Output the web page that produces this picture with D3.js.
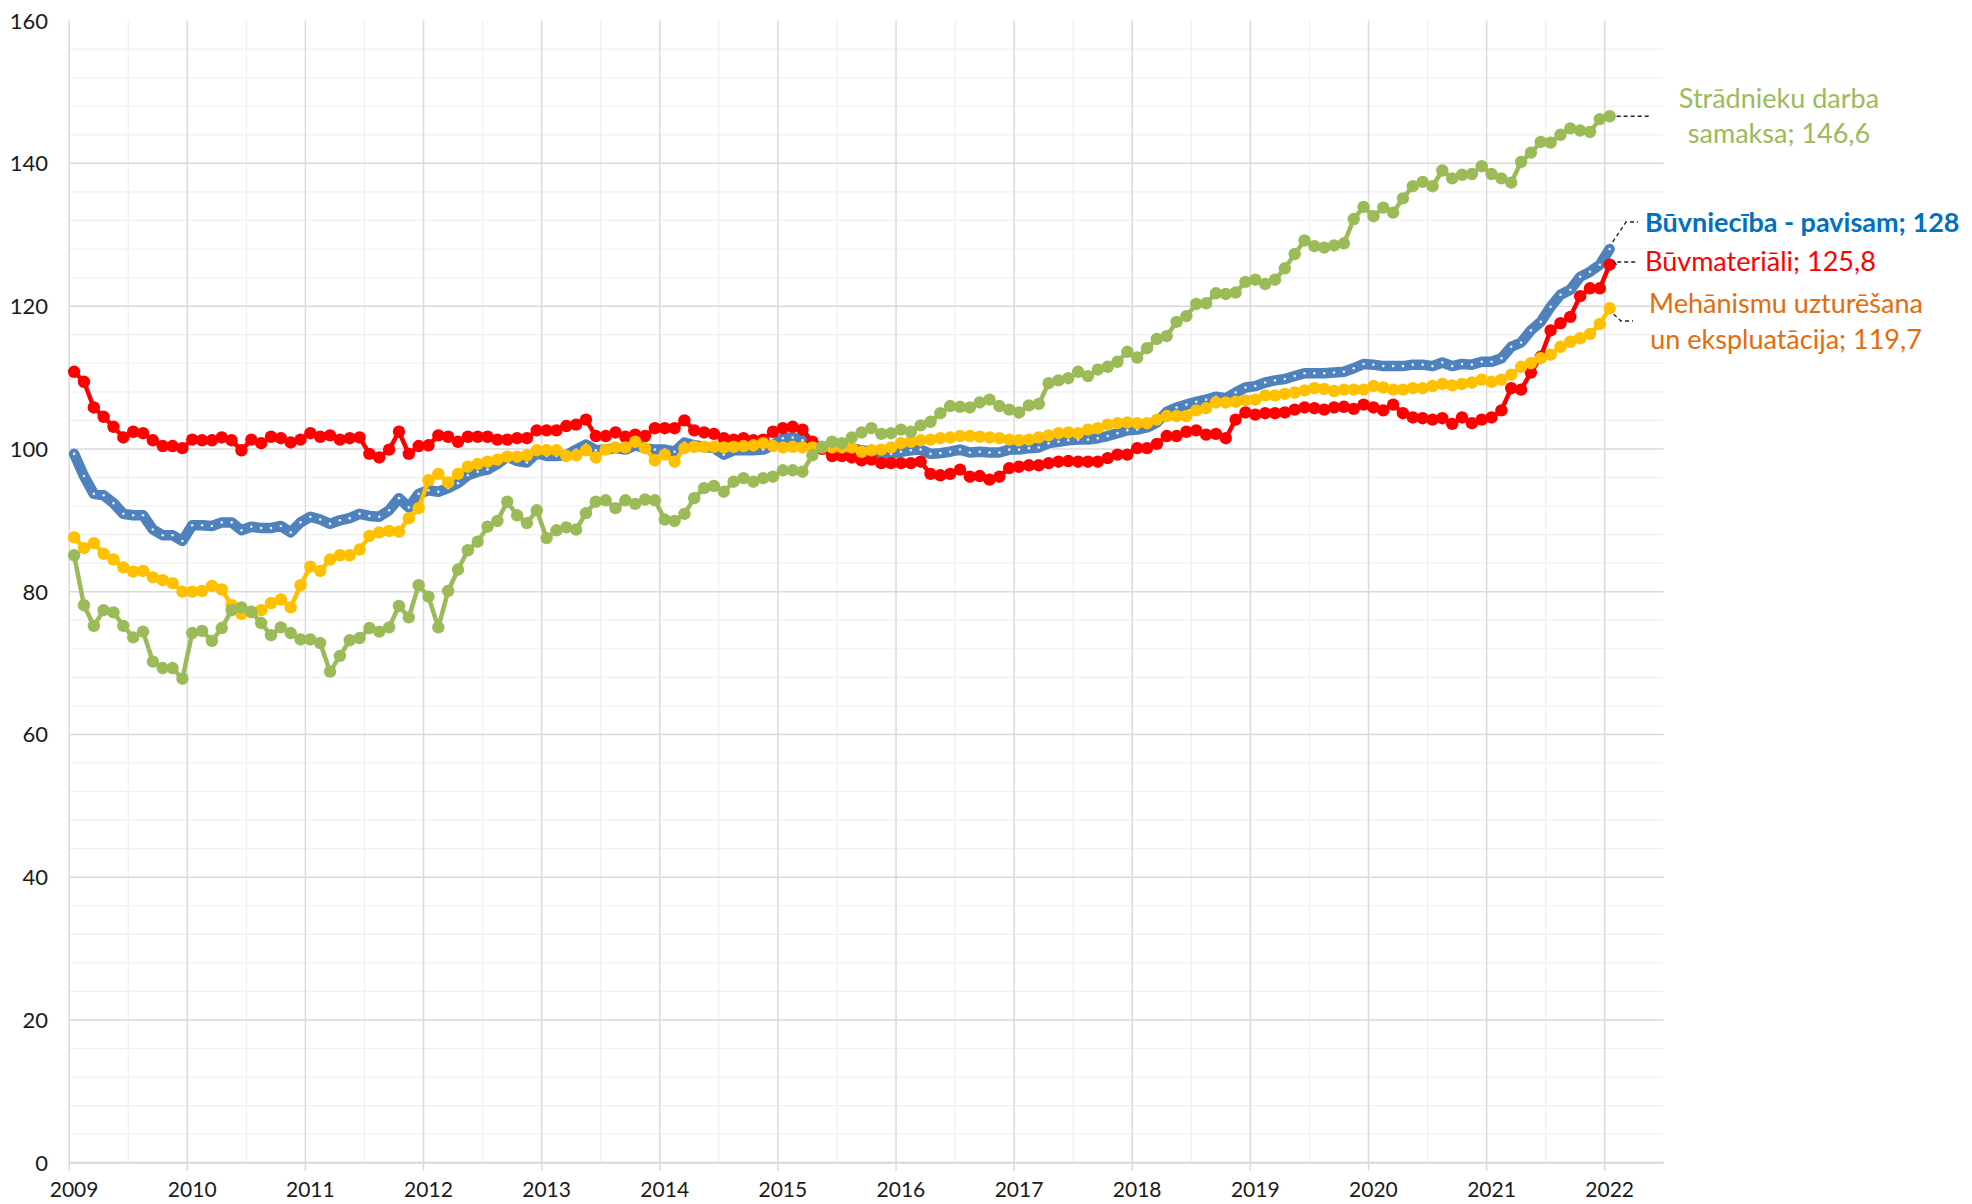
<!DOCTYPE html>
<html>
<head>
<meta charset="utf-8">
<script src="https://cdn.jsdelivr.net/npm/d3@7"></script>
<style>
  body { margin: 0; background: #fff; }
  svg { display: block; font-family: Lato, "Open Sans", sans-serif; }
</style>
</head>
<body>
<div id="chart"></div>
<script>
// monthly indices, 2015 = 100, from Jan 2009 to Jan 2022 (one row per year)
const START_YEAR = 2009;
const YEAR_LABELS = [2009, 2010, 2011, 2012, 2013, 2014, 2015, 2016, 2017, 2018, 2019, 2020, 2021, 2022];
const Y_TICKS = [0, 20, 40, 60, 80, 100, 120, 140, 160];

const buvniecibaPavisam = [
  99.3, 96.2, 93.7, 93.5, 92.4, 90.9, 90.7, 90.7, 88.7, 87.9, 87.9, 87.1,
  89.3, 89.3, 89.2, 89.7, 89.7, 88.6, 89.1, 88.9, 88.9, 89.2, 88.3, 89.7,
  90.5, 90.1, 89.5, 90.0, 90.3, 90.9, 90.6, 90.5, 91.4, 93.1, 91.8, 93.7,
  94.2, 94.0, 94.5, 95.2, 96.3, 96.8, 97.1, 97.9, 98.9, 98.3, 98.1, 99.4,
  99.0, 99.0, 99.1, 99.9, 100.6, 99.8, 99.9, 100.1, 99.9, 100.5, 100.1, 99.9,
  99.9, 99.6, 100.9, 100.5, 100.3, 100.1, 99.2, 99.8, 99.8, 99.8, 99.9, 100.5,
  101.5, 101.6, 101.2, 100.5, 100.3, 100.3, 100.2, 100.1, 99.8, 99.6, 99.3, 99.3,
  99.6, 99.8, 99.9, 99.3, 99.4, 99.6, 99.9, 99.5, 99.6, 99.5, 99.5, 99.9,
  99.9, 100.1, 100.2, 100.8, 101.0, 101.2, 101.3, 101.3, 101.5, 101.8, 102.2, 102.6,
  102.7, 103.0, 103.7, 105.2, 105.8, 106.2, 106.6, 106.9, 107.3, 107.1, 107.9, 108.6,
  108.8, 109.3, 109.6, 109.8, 110.2, 110.6, 110.6, 110.6, 110.7, 110.8, 111.3, 111.9,
  111.8, 111.6, 111.6, 111.6, 111.8, 111.8, 111.6, 112.1, 111.6, 111.9, 111.8, 112.2,
  112.2, 112.7, 114.3, 114.9, 116.6, 117.8, 119.9, 121.6, 122.3, 124.1, 124.8, 125.8,
  128.0
];

const buvmateriali = [
  110.8, 109.4, 105.8, 104.5, 103.1, 101.6, 102.4, 102.2, 101.2, 100.4, 100.4, 100.1,
  101.3, 101.2, 101.2, 101.6, 101.2, 99.8, 101.3, 100.8, 101.7, 101.5, 100.9, 101.3,
  102.2, 101.7, 101.9, 101.3, 101.5, 101.6, 99.3, 98.8, 99.9, 102.4, 99.3, 100.4,
  100.5, 101.9, 101.7, 101.0, 101.7, 101.7, 101.7, 101.3, 101.3, 101.5, 101.5, 102.6,
  102.6, 102.6, 103.2, 103.4, 104.1, 101.8, 101.8, 102.3, 101.7, 102.0, 101.8, 102.9,
  102.9, 102.9, 104.0, 102.6, 102.3, 102.1, 101.5, 101.3, 101.5, 101.2, 101.3, 102.4,
  102.9, 103.1, 102.7, 101.0, 100.0, 99.0, 99.0, 98.8, 98.4, 98.5, 98.0, 98.0,
  98.0, 98.0, 98.2, 96.5, 96.3, 96.5, 97.1, 96.1, 96.2, 95.7, 96.1, 97.3,
  97.5, 97.7, 97.7, 98.0, 98.2, 98.3, 98.2, 98.2, 98.2, 98.7, 99.2, 99.2,
  100.1, 100.1, 100.7, 101.8, 101.8, 102.4, 102.6, 102.0, 102.1, 101.5, 104.1, 105.1,
  104.8, 105.0, 105.0, 105.1, 105.5, 105.8, 105.7, 105.5, 105.8, 105.9, 105.6, 106.2,
  105.8, 105.4, 106.2, 105.0, 104.4, 104.3, 104.1, 104.3, 103.5, 104.4, 103.6, 104.1,
  104.4, 105.4, 108.5, 108.3, 110.7, 112.9, 116.6, 117.6, 118.5, 121.4, 122.5, 122.5,
  125.8
];

const mehanismi = [
  87.6, 86.1, 86.8, 85.3, 84.5, 83.4, 82.8, 82.9, 82.0, 81.6, 81.2, 80.0,
  80.0, 80.1, 80.8, 80.3, 78.1, 76.9, 77.1, 77.4, 78.4, 78.9, 77.8, 80.9,
  83.5, 82.9, 84.5, 85.1, 85.1, 85.9, 87.8, 88.3, 88.5, 88.4, 90.3, 91.7,
  95.6, 96.5, 95.3, 96.5, 97.5, 97.9, 98.2, 98.5, 98.9, 98.9, 99.1, 99.8,
  99.8, 99.8, 99.0, 99.1, 99.8, 98.8, 99.9, 100.2, 100.2, 101.0, 100.1, 98.4,
  99.2, 98.2, 100.1, 100.3, 100.3, 100.3, 100.2, 100.3, 100.4, 100.5, 100.8, 100.4,
  100.2, 100.3, 100.2, 100.2, 100.2, 100.2, 100.2, 100.2, 99.6, 99.8, 99.9, 100.2,
  100.8, 101.0, 101.2, 101.3, 101.5, 101.6, 101.8, 101.8, 101.7, 101.6, 101.5, 101.3,
  101.2, 101.3, 101.6, 101.9, 102.2, 102.3, 102.2, 102.7, 102.9, 103.4, 103.6, 103.7,
  103.6, 103.6, 104.1, 104.6, 104.6, 104.6, 105.4, 105.7, 106.5, 106.5, 106.6, 106.8,
  106.9, 107.5, 107.5, 107.7, 107.9, 108.2, 108.5, 108.4, 108.1, 108.3, 108.3, 108.3,
  108.8, 108.6, 108.3, 108.3, 108.5, 108.5, 108.8, 109.1, 108.9, 109.1, 109.3, 109.7,
  109.4, 109.7, 110.4, 111.5, 112.0, 112.7, 113.2, 114.3, 115.0, 115.5, 116.1, 117.5,
  119.7
];

const stradniekuAlga = [
  85.1, 78.1, 75.2, 77.4, 77.1, 75.2, 73.6, 74.4, 70.2, 69.3, 69.3, 67.8,
  74.2, 74.5, 73.1, 74.9, 77.4, 77.8, 77.2, 75.6, 73.9, 75.0, 74.2, 73.3,
  73.3, 72.8, 68.8, 71.0, 73.2, 73.5, 74.9, 74.4, 75.0, 78.0, 76.4, 80.9,
  79.3, 75.0, 80.1, 83.1, 85.8, 87.0, 89.1, 89.9, 92.6, 90.7, 89.6, 91.4,
  87.5, 88.6, 89.0, 88.7, 91.0, 92.6, 92.8, 91.7, 92.8, 92.3, 92.9, 92.8,
  90.1, 89.9, 90.9, 93.1, 94.5, 94.8, 94.0, 95.4, 95.9, 95.4, 95.9, 96.1,
  97.0, 97.0, 96.8, 99.1, 100.3, 101.0, 100.8, 101.6, 102.3, 102.9, 102.1, 102.2,
  102.7, 102.4, 103.3, 103.8, 105.0, 106.0, 105.9, 105.8, 106.5, 106.9, 106.0, 105.5,
  105.1, 106.1, 106.3, 109.2, 109.6, 109.9, 110.8, 110.2, 111.1, 111.5, 112.2, 113.6,
  112.8, 114.1, 115.4, 115.8, 117.8, 118.6, 120.3, 120.4, 121.8, 121.7, 121.9, 123.4,
  123.7, 123.1, 123.7, 125.3, 127.3, 129.2, 128.4, 128.2, 128.5, 128.8, 132.2, 133.9,
  132.6, 133.8, 133.1, 135.1, 136.8, 137.4, 136.8, 139.0, 137.9, 138.4, 138.5, 139.6,
  138.5, 137.9, 137.3, 140.2, 141.5, 143.0, 142.9, 144.0, 144.9, 144.6, 144.4, 146.2,
  146.6
];

var width = 1972,
    height = 1204;

const svg = d3.select("#chart").append("svg")
  .attr("width", width)
  .attr("height", height);

// month slots: Jan 2009 .. Jun 2022, points sit in the middle of a slot
const x = d3.scaleLinear().domain([0, 162]).range([69.2, 1663.8]);
const y = d3.scaleLinear().domain([0, 160]).range([1162.7, 20.6]);
const xm = i => x(i + 0.5);

// gridlines
const grid = svg.append("g");
grid.selectAll("line.hminor")
  .data(d3.range(4, 160, 4).filter(v => v % 20 !== 0))
  .join("line")
  .attr("x1", x(0)).attr("x2", x(162))
  .attr("y1", d => y(d)).attr("y2", d => y(d))
  .attr("stroke", "#f0f0f0").attr("stroke-width", 1.2);
grid.selectAll("line.vminor")
  .data(d3.range(6, 162, 12))
  .join("line")
  .attr("x1", d => x(d)).attr("x2", d => x(d))
  .attr("y1", y(160)).attr("y2", y(0))
  .attr("stroke", "#efefef").attr("stroke-width", 1.2);
grid.selectAll("line.hmajor")
  .data(Y_TICKS.filter(v => v < 160))
  .join("line")
  .attr("x1", x(0)).attr("x2", x(162))
  .attr("y1", d => y(d)).attr("y2", d => y(d))
  .attr("stroke", d => d === 0 ? "#d6d6d6" : "#dadada")
  .attr("stroke-width", d => d === 0 ? 2 : 1.5);
grid.selectAll("line.vmajor")
  .data(YEAR_LABELS)
  .join("line")
  .attr("x1", d => x((d - START_YEAR) * 12)).attr("x2", d => x((d - START_YEAR) * 12))
  .attr("y1", y(160)).attr("y2", y(0) + 8)
  .attr("stroke", "#dadada").attr("stroke-width", 1.5);

// axis labels
svg.append("g").selectAll("text")
  .data(Y_TICKS)
  .join("text")
  .attr("x", 48)
  .attr("y", d => y(d))
  .attr("dy", "0.36em")
  .attr("text-anchor", "end")
  .attr("font-size", 22)
  .attr("fill", "#1a1a1a")
  .text(d => d);

svg.append("g").selectAll("text")
  .data(YEAR_LABELS)
  .join("text")
  .attr("x", d => xm((d - START_YEAR) * 12))
  .attr("y", 1197)
  .attr("text-anchor", "middle")
  .attr("font-size", 21)
  .attr("fill", "#1a1a1a")
  .text(d => d);

const line = d3.line()
  .x((d, i) => xm(i))
  .y(d => y(d));

// blue total: thick line with tiny white markers
const gBlue = svg.append("g");
gBlue.append("path")
  .datum(buvniecibaPavisam)
  .attr("d", line)
  .attr("fill", "none")
  .attr("stroke", "#4f81bd")
  .attr("stroke-width", 10.5)
  .attr("stroke-linejoin", "round")
  .attr("stroke-linecap", "round");
gBlue.selectAll("circle")
  .data(buvniecibaPavisam)
  .join("circle")
  .attr("cx", (d, i) => xm(i))
  .attr("cy", d => y(d))
  .attr("r", 1.3)
  .attr("fill", "#e8eef7");

// other series: line with round markers
function drawSeries(values, color) {
  const g = svg.append("g");
  g.append("path")
    .datum(values)
    .attr("d", line)
    .attr("fill", "none")
    .attr("stroke", color)
    .attr("stroke-width", 4.5)
    .attr("stroke-linejoin", "round");
  g.selectAll("circle")
    .data(values)
    .join("circle")
    .attr("cx", (d, i) => xm(i))
    .attr("cy", d => y(d))
    .attr("r", 6.2)
    .attr("fill", color);
}
drawSeries(buvmateriali, "#ff0000");
drawSeries(mehanismi, "#ffc000");
drawSeries(stradniekuAlga, "#9bbb59");

// data labels with leader lines
const last = buvniecibaPavisam.length - 1;
const lx = xm(last);
const leaders = svg.append("g")
  .attr("fill", "none")
  .attr("stroke", "#222")
  .attr("stroke-width", 1.3)
  .attr("stroke-dasharray", "4,3");
leaders.append("path")
  .attr("d", `M${lx + 7},${y(stradniekuAlga[last])} H1650`);
leaders.append("path")
  .attr("d", `M${lx + 3},${y(buvniecibaPavisam[last]) - 7} L1626,222 H1638`);
leaders.append("path")
  .attr("d", `M${lx + 7},${y(buvmateriali[last])} L1614,262 H1638`);
leaders.append("path")
  .attr("d", `M${lx + 4},${y(mehanismi[last]) + 6} L1621,321 H1633`);

const labels = svg.append("g").attr("font-size", 27);
labels.append("text")
  .attr("x", 1779).attr("y", 108)
  .attr("text-anchor", "middle")
  .attr("fill", "#9bbb59")
  .text("Strādnieku darba");
labels.append("text")
  .attr("x", 1779).attr("y", 143)
  .attr("text-anchor", "middle")
  .attr("fill", "#9bbb59")
  .text("samaksa; " + d3.format(".1f")(stradniekuAlga[last]).replace(".", ","));
labels.append("text")
  .attr("x", 1645).attr("y", 232)
  .attr("font-weight", "bold")
  .attr("fill", "#0070c0")
  .text("Būvniecība - pavisam; " + buvniecibaPavisam[last]);
labels.append("text")
  .attr("x", 1645).attr("y", 271)
  .attr("fill", "#ff0000")
  .text("Būvmateriāli; " + d3.format(".1f")(buvmateriali[last]).replace(".", ","));
labels.append("text")
  .attr("x", 1786).attr("y", 313)
  .attr("text-anchor", "middle")
  .attr("fill", "#e46c0a")
  .text("Mehānismu uzturēšana");
labels.append("text")
  .attr("x", 1786).attr("y", 349)
  .attr("text-anchor", "middle")
  .attr("fill", "#e46c0a")
  .text("un ekspluatācija; " + d3.format(".1f")(mehanismi[last]).replace(".", ","));
</script>
</body>
</html>
